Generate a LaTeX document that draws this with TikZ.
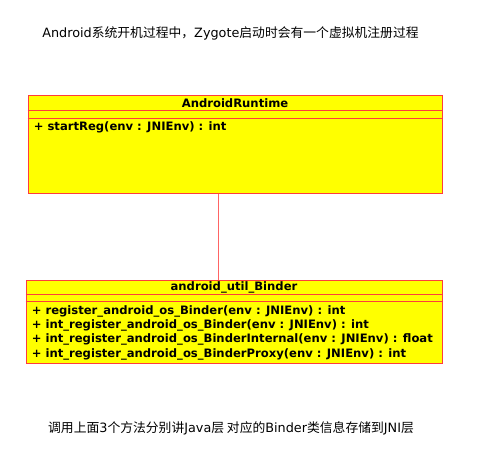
\documentclass[tikz,border=0pt]{standalone}
\usepackage{fontspec}
\setmainfont{DejaVu Sans}
\newfontfamily\cjk{Noto Sans CJK SC}
\usetikzlibrary{calc}

\definecolor{umlfill}{RGB}{255,255,0}
\definecolor{umlline}{RGB}{255,60,60}
\definecolor{linkline}{RGB}{255,100,100}

\tikzset{
  classbox/.style={draw=umlline, fill=umlfill, rectangle, line width=0.8pt, inner sep=0pt},
  classname/.style={font=\bfseries\fontsize{11.6}{14}\selectfont, inner sep=0pt},
  methodtext/.style={font=\bfseries\fontsize{11.6}{14.4}\selectfont, anchor=north west, align=left, inner sep=0pt},
  note/.style={font=\fontsize{12.8}{15}\selectfont, inner sep=0pt}
}

\begin{document}
\begin{tikzpicture}[x=1pt,y=-1pt]
      \useasboundingbox (0,0) rectangle (490,460);

      % Notes
      \node[note] (topnote) at (230.5,33) {Android{\cjk 系统开机过程中，}Zygote{\cjk 启动时会有一个虚拟机注册过程}};
      \node[note] (bottomnote) at (231,428) {{\cjk 调用上面}3{\cjk 个方法分别讲}Java{\cjk 层 对应的}Binder{\cjk 类信息存储到}JNI{\cjk 层}};

      % Class boxes
      \node[classbox, minimum width=414pt, minimum height=97.5pt] (runtime) at (235,144.5) {};
      \node[classbox, minimum width=416pt, minimum height=83pt] (binder) at (234,321.5) {};

      % Compartments
      \draw[umlline, line width=0.8pt] ($(runtime.north west)+(0,15.3)$) -- ($(runtime.north east)+(0,15.3)$);
      \draw[umlline, line width=0.8pt] ($(runtime.north west)+(0,23)$) -- ($(runtime.north east)+(0,23)$);
      \draw[umlline, line width=0.8pt] ($(binder.north west)+(0,14.3)$) -- ($(binder.north east)+(0,14.3)$);
      \draw[umlline, line width=0.8pt] ($(binder.north west)+(0,22)$) -- ($(binder.north east)+(0,22)$);

      % Class names
      \node[classname] (runtimename) at ($(runtime.north)+(0,7.8)$) {AndroidRuntime};
      \node[classname] (bindername) at ($(binder.north)+(0,7.6)$) {android\_util\_Binder};

      % Methods
      \node[methodtext] (runtimeops) at ($(runtime.north west)+(6,26.5)$) {+ startReg(env : JNIEnv) : int};
      \node[methodtext] (binderops) at ($(binder.north west)+(6,25.5)$) {+ register\_android\_os\_Binder(env : JNIEnv) : int\\
+ int\_register\_android\_os\_Binder(env : JNIEnv) : int\\
+ int\_register\_android\_os\_BinderInternal(env : JNIEnv) : float\\
+ int\_register\_android\_os\_BinderProxy(env : JNIEnv) : int};

      % Link
      \coordinate (linktop) at ($(runtime.south west)+(191,0)$);
      \draw[linkline, line width=1.2pt] (linktop) -- (linktop |- binder.north);
    \end{tikzpicture}
\end{document}
